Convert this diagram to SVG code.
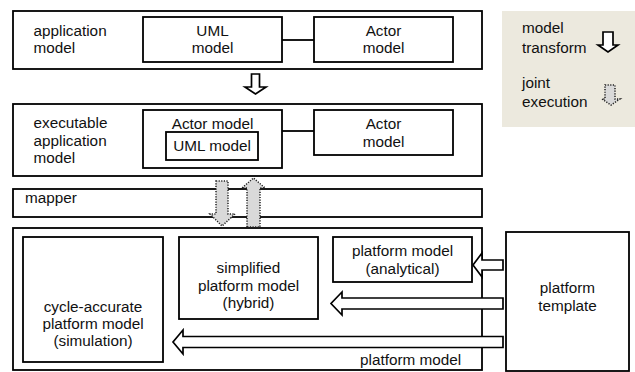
<svg xmlns="http://www.w3.org/2000/svg" width="635" height="372" viewBox="0 0 635 372">
<style>
.box{fill:#fff;stroke:#000;stroke-width:1.8}
.t{font-family:"Liberation Sans",Arial,sans-serif;font-size:15.3px;fill:#111}
.c{text-anchor:middle}
.line{stroke:#000;stroke-width:1.8;fill:none}
.arr{fill:#fff;stroke:#000;stroke-width:1.7;stroke-linejoin:miter}
.jarr{fill:#d9d9d9;stroke:#222;stroke-width:1.5;stroke-dasharray:1.2 1.4}
</style>
<rect width="635" height="372" fill="#fff"/>

<g id="legend">
<rect x="502" y="11" width="133" height="116" fill="#ece9de"/>
<text class="t" x="522" y="33">model</text>
<text class="t" x="522" y="52.5">transform</text>
<text class="t" x="522" y="88">joint</text>
<text class="t" x="522" y="106.5">execution</text>
<path class="arr" d="M603,32 H613 V45 H618 L608,52 L598,45 H603 Z"/>
<path class="jarr" d="M605,85 H615 V99 H620 L611,105 L602,99 H605 Z"/>
</g>

<g id="application-model">
<rect class="box" x="13" y="11" width="469" height="58"/>
<text class="t" x="33.5" y="35.7">application</text>
<text class="t" x="33.5" y="53.3">model</text>
</g>
<g id="uml-model">
<rect class="box" x="143" y="17" width="139" height="45"/>
<text class="t c" x="212.5" y="35.7">UML</text>
<text class="t c" x="212.5" y="53.3">model</text>
</g>
<g id="actor-model">
<rect class="box" x="314" y="17" width="139" height="45"/>
<text class="t c" x="383.5" y="35.7">Actor</text>
<text class="t c" x="383.5" y="53.3">model</text>
</g>

<g id="executable-application-model">
<rect class="box" x="13" y="104" width="469" height="72"/>
<text class="t" x="33.5" y="128">executable</text>
<text class="t" x="33.5" y="145.6">application</text>
<text class="t" x="33.5" y="163.2">model</text>
</g>
<g id="exec-actor-model">
<rect class="box" x="143" y="110" width="139" height="58"/>
<text class="t c" x="212.5" y="129">Actor model</text>
</g>
<g id="exec-uml-model">
<rect class="box" x="166" y="132" width="92" height="28"/>
<text class="t c" x="212" y="150.5">UML model</text>
</g>
<g id="exec-actor-model-2">
<rect class="box" x="314" y="110" width="139" height="45"/>
<text class="t c" x="383.5" y="128.5">Actor</text>
<text class="t c" x="383.5" y="146.5">model</text>
</g>

<g id="mapper">
<rect class="box" x="13" y="189" width="469" height="28"/>
<text class="t" x="25" y="203">mapper</text>
</g>

<g id="platform-model">
<rect class="box" x="13" y="228" width="469" height="142"/>
<text class="t" x="360" y="365">platform model</text>
</g>
<g id="cycle-accurate">
<rect class="box" x="23" y="237" width="140" height="125"/>
<text class="t c" x="93" y="311.5">cycle-accurate</text>
<text class="t c" x="93" y="328.5">platform model</text>
<text class="t c" x="93" y="345.5">(simulation)</text>
</g>
<g id="simplified">
<rect class="box" x="179" y="237" width="139" height="82"/>
<text class="t c" x="248.5" y="273">simplified</text>
<text class="t c" x="248.5" y="290.5">platform model</text>
<text class="t c" x="248.5" y="308">(hybrid)</text>
</g>
<g id="analytical">
<rect class="box" x="333" y="237" width="139" height="45"/>
<text class="t c" x="402.5" y="256">platform model</text>
<text class="t c" x="402.5" y="273.5">(analytical)</text>
</g>
<g id="platform-template">
<rect class="box" x="506" y="232" width="123" height="139"/>
<text class="t c" x="567.5" y="293">platform</text>
<text class="t c" x="567.5" y="310.5">template</text>
</g>

<g id="connectors">
<line class="line" x1="282" y1="40" x2="314" y2="40"/>
<line class="line" x1="282" y1="131" x2="314" y2="131"/>
<path class="arr" d="M251.5,74 H259.5 V87 H266 L255.5,94 L245,87 H251.5 Z"/>
<path class="jarr" d="M216,181 H228 V214 H235 L222,226 L210,214 H216 Z"/>
<path class="jarr" d="M247,227 V188 H242 L253.5,178 L265,188 H260 V227 Z"/>
<path class="arr" d="M503,260 H482 V253 L473,265 L482,277 V270 H503 Z"/>
<path class="arr" d="M503,298 H342 V292 L331,303.5 L342,315 V309 H503 Z"/>
<path class="arr" d="M503,336.5 H183 V330 L173,342 L183,354 V347.5 H503 Z"/>
</g>
</svg>
